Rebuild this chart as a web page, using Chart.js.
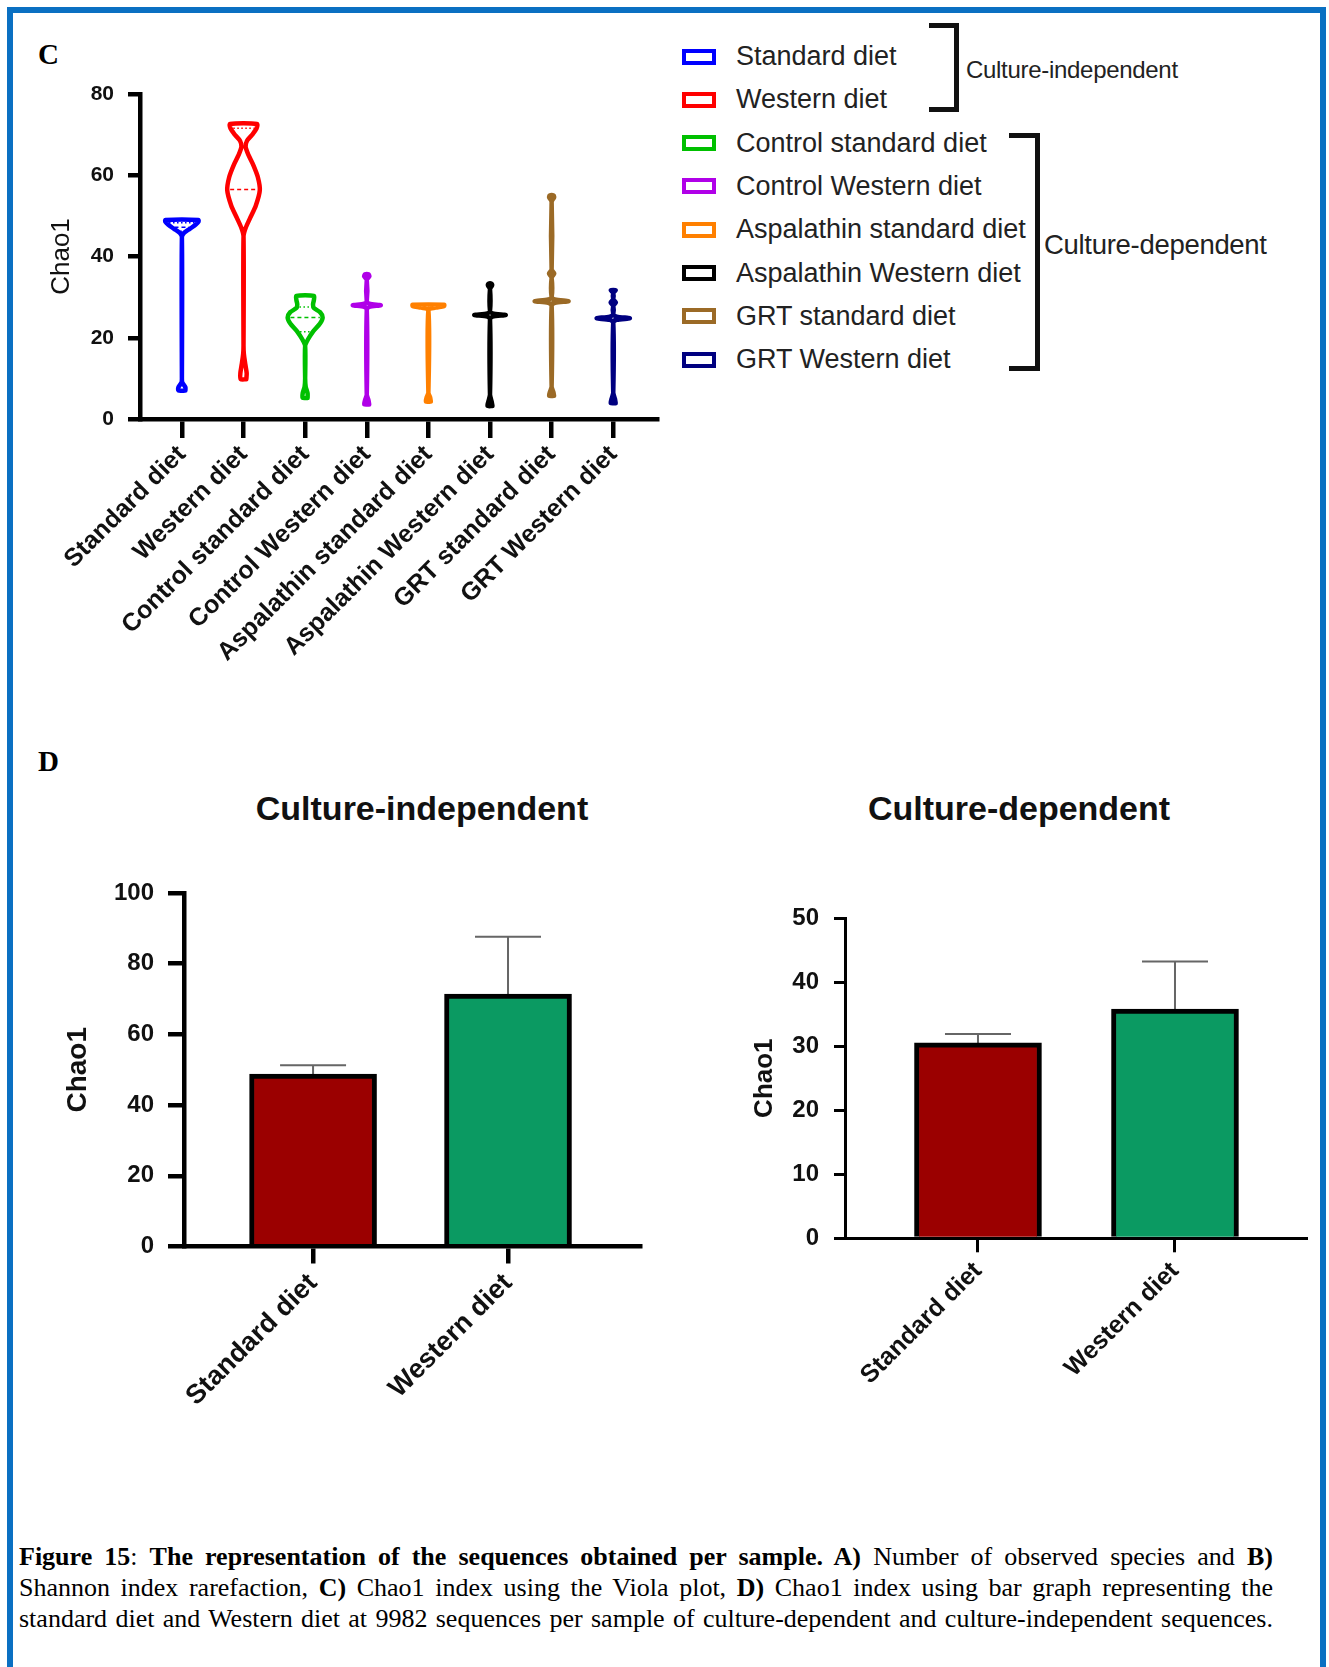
<!DOCTYPE html>
<html>
<head>
<meta charset="utf-8">
<script src="https://cdn.jsdelivr.net/npm/chart.js@4.4.1/dist/chart.umd.min.js"></script>
<style>
  html, body { margin: 0; padding: 0; background: #fff; }
  body { width: 1329px; height: 1667px; position: relative; overflow: hidden;
         font-family: "Liberation Sans", Arial, sans-serif; color: #111; }
  #frame { position: absolute; left: 7px; top: 7px; width: 1307px; height: 1700px;
           border: 6px solid #0a70c2; box-sizing: content-box; }
  canvas { position: absolute; }
  .panel { position: absolute; font-family: "Liberation Serif", "Times New Roman", serif;
           font-weight: bold; font-size: 29px; line-height: 29px; color: #000; }
  .legend-row { position: absolute; left: 682px; height: 43px; display: flex; align-items: center; }
  .legend-box { width: 26px; height: 8px; border: 4px solid; background: #fff; }
  .legend-text { position: absolute; left: 54px; white-space: nowrap; font-size: 27px; color: #222; }
  .bracket { position: absolute; border: 5px solid #111; border-left: none; box-sizing: border-box; }
  .group-label { position: absolute; color: #222; white-space: nowrap; }
  .title { position: absolute; width: 600px; text-align: center; font-weight: bold; font-size: 34px; color: #111; }
  #caption { position: absolute; left: 19px; top: 1541px; width: 1254px;
             font-family: "Liberation Serif", "Times New Roman", serif; font-size: 26px; line-height: 31px; color: #000; }
  #caption .ln { text-align: justify; text-align-last: justify; white-space: nowrap; }
</style>
</head>
<body>
<div id="frame"></div>

<div class="panel" style="left:38px; top:40px;">C</div>
<div class="panel" style="left:38px; top:747px;">D</div>

<div id="legend"></div>
<div class="bracket" style="left:929px; top:23px; width:30px; height:89px;"></div>
<div class="group-label" style="left:966px; top:56px; font-size:24px; letter-spacing:-0.3px;">Culture-independent</div>
<div class="bracket" style="left:1009px; top:133px; width:31px; height:238px;"></div>
<div class="group-label" style="left:1044px; top:229px; font-size:27.5px; letter-spacing:-0.3px;">Culture-dependent</div>

<div class="title" style="left:122px; top:789px;">Culture-independent</div>
<div class="title" style="left:719px; top:789px;">Culture-dependent</div>

<canvas id="violin" width="680" height="680" style="left:0; top:0;"></canvas>
<canvas id="barIndep" width="660" height="600" style="left:0; top:840px;"></canvas>
<canvas id="barDep" width="620" height="600" style="left:700px; top:840px;"></canvas>

<div id="caption">
  <div class="ln"><b>Figure 15</b>: <b>The representation of the sequences obtained per sample. A)</b> Number of observed species and <b>B)</b></div>
  <div class="ln">Shannon index rarefaction, <b>C)</b> Chao1 index using the Viola plot, <b>D)</b> Chao1 index using bar graph representing the</div>
  <div class="ln">standard diet and Western diet at 9982 sequences per sample of culture-dependent and culture-independent sequences.</div>
</div>

<script>
// ---------- Panel C: Chao1 violin plot ----------
const categories = [
  'Standard diet', 'Western diet', 'Control standard diet', 'Control Western diet',
  'Aspalathin standard diet', 'Aspalathin Western diet', 'GRT standard diet', 'GRT Western diet'
];
const groupColors = ['#0000ff', '#ff0000', '#00c000', '#b000e8', '#ff8000', '#000000', '#9b6a26', '#000080'];
const violinTicks = [0, 20, 40, 60, 80];

// Density profiles along Chao1: [Chao1 value, relative density]
const standardDietProfile = [[7.0, 0.2], [7.8, 0.2], [9.0, 0.02], [10, 0], [44.8, 0], [45.8, 0.12], [46.8, 0.45], [47.8, 0.78], [48.5, 0.94], [49.0, 0.94]];
const westernDietProfile = [[9.8, 0.16], [11.3, 0.18], [13.5, 0.1], [16, 0.02], [18, 0], [45, 0], [47, 0.12], [49.5, 0.38], [52.5, 0.7], [56.3, 0.93], [59.5, 0.82], [62.5, 0.56], [65, 0.28], [67, 0.12], [68.5, 0.2], [70, 0.5], [71.5, 0.74], [72.6, 0.77]];
const controlStandardProfile = [[5.2, 0.14], [6.3, 0.14], [8, 0.03], [10, 0], [18, 0], [19.5, 0.15], [21.5, 0.45], [23.5, 0.85], [25, 1.0], [26.3, 0.85], [27.3, 0.5], [28.2, 0.45], [29.3, 0.5], [30.3, 0.5]];
const controlWesternProfile = [[3.6, 0.14], [4.6, 0.1], [6, 0], [27, 0], [27.6, 0.15], [28.0, 0.8], [28.4, 0.15], [29.0, 0], [34.3, 0], [35.1, 0.15], [35.6, 0.1]];
const aspalathinStandardProfile = [[4.3, 0.14], [5.3, 0.1], [6.5, 0], [26.8, 0], [27.4, 0.4], [27.8, 0.9], [28.1, 0.9]];
const aspalathinWesternProfile = [[3.2, 0.14], [4.2, 0.1], [6, 0], [24.6, 0], [25.2, 0.15], [25.6, 0.9], [26.0, 0.15], [26.6, 0], [32, 0], [32.9, 0.12], [33.3, 0.1]];
const grtStandardProfile = [[5.7, 0.14], [6.6, 0.1], [8, 0], [28.0, 0], [28.6, 0.2], [29.0, 0.97], [29.4, 0.2], [30.0, 0], [34.8, 0], [35.8, 0.15], [36.8, 0], [53.5, 0], [54.5, 0.14], [55.0, 0.12]];
const grtWesternProfile = [[3.9, 0.14], [4.9, 0.1], [6.5, 0], [23.8, 0], [24.4, 0.2], [24.8, 0.95], [25.2, 0.2], [25.8, 0], [27.9, 0], [28.7, 0.15], [29.5, 0], [31, 0], [31.7, 0.14]];
const violinProfiles = [standardDietProfile, westernDietProfile, controlStandardProfile, controlWesternProfile,
  aspalathinStandardProfile, aspalathinWesternProfile, grtStandardProfile, grtWesternProfile];

const medians = [47.2, 56.5, 25.0, 28.0, 27.8, 25.6, 29.0, 24.8];
const upperQuartiles = [48.3, 71.6, 27.6, 28.2, 28.0, 25.8, 29.2, 25.0];
const lowerQuartiles = [46.2, 44.0, 21.5, 27.8, 27.6, 25.4, 28.8, 24.6];

// ---------- Panel D: mean Chao1 bars ----------
const barCategories = ['Standard diet', 'Western diet'];
const barColors = ['#9b0000', '#0b9a62'];
const independentMeans = [48.8, 71.4];
const independentSD = [2.5, 16.2];
const independentTicks = [0, 20, 40, 60, 80, 100];
const dependentMeans = [30.5, 35.8];
const dependentSD = [1.4, 7.4];
const dependentTicks = [0, 10, 20, 30, 40, 50];

// ---------- shared styling ----------
const SANS = '"Liberation Sans", Arial, sans-serif';
const VIOLIN_HALF = 0.284;   // x-units for a density of 1

Chart.defaults.font.family = SANS;
Chart.defaults.color = '#111';

// legend for panel C
(function buildLegend() {
  const host = document.getElementById('legend');
  categories.forEach((name, i) => {
    const row = document.createElement('div');
    row.className = 'legend-row';
    row.style.top = (35 + i * 43.3) + 'px';
    const box = document.createElement('div');
    box.className = 'legend-box';
    box.style.borderColor = groupColors[i];
    const txt = document.createElement('div');
    txt.className = 'legend-text';
    txt.textContent = name;
    row.appendChild(box);
    row.appendChild(txt);
    host.appendChild(row);
  });
})();

function densityAt(profile, v) {
  for (let k = 1; k < profile.length; k++) {
    const [v0, d0] = profile[k - 1], [v1, d1] = profile[k];
    if (v >= v0 && v <= v1) return v1 === v0 ? d1 : d0 + (d1 - d0) * (v - v0) / (v1 - v0);
  }
  return 0;
}

function violinOutline(i) {
  const c = i + 1, prof = violinProfiles[i];
  const right = prof.map(([v, d]) => ({ x: c + d * VIOLIN_HALF, y: v }));
  const left = prof.slice().reverse().map(([v, d]) => ({ x: c - d * VIOLIN_HALF, y: v }));
  return right.concat(left, [right[0]]);
}

function crossLine(i, v) {
  const w = Math.max(densityAt(violinProfiles[i], v) * VIOLIN_HALF - 0.045, 0);
  return [{ x: i + 1 - w, y: v }, { x: i + 1 + w, y: v }];
}

const violinDatasets = [];
categories.forEach((name, i) => {
  violinDatasets.push({
    label: name, data: violinOutline(i), showLine: true, fill: false,
    borderColor: groupColors[i], borderWidth: 4.5, tension: 0.25,
    pointRadius: 0, borderCapStyle: 'round', borderJoinStyle: 'round'
  });
  violinDatasets.push({
    label: name + ' median', data: crossLine(i, medians[i]), showLine: true,
    borderColor: groupColors[i], borderWidth: 1.5, borderDash: [4, 3], pointRadius: 0, tension: 0
  });
  [upperQuartiles[i], lowerQuartiles[i]].forEach(q => violinDatasets.push({
    label: name + ' quartile', data: crossLine(i, q), showLine: true,
    borderColor: groupColors[i], borderWidth: 1.5, borderDash: [1.5, 2.5], pointRadius: 0, tension: 0
  }));
});

new Chart(document.getElementById('violin'), {
  type: 'scatter',
  data: { datasets: violinDatasets },
  options: {
    responsive: false, animation: false, events: [],
    layout: { padding: { top: 94, right: 23, bottom: 0, left: 0 } },
    plugins: { legend: { display: false }, tooltip: { enabled: false } },
    scales: {
      x: {
        type: 'linear', min: 0.32, max: 8.71, offset: false,
        afterBuildTicks: s => { s.ticks = categories.map((_, i) => ({ value: i + 1 })); },
        afterFit: s => { s.height = 261; },
        grid: { drawOnChartArea: false, drawTicks: true, tickLength: 19, lineWidth: 4.5, color: '#000', offset: false },
        border: { display: true, width: 4.5, color: '#000' },
        ticks: { autoSkip: false, minRotation: 45, maxRotation: 45, padding: 2, color: '#111',
                 font: { family: SANS, size: 25, weight: 'bold' }, callback: (v, i) => categories[i] }
      },
      y: {
        type: 'linear', min: 0, max: 80,
        afterBuildTicks: s => { s.ticks = violinTicks.map(v => ({ value: v })); },
        afterFit: s => { s.width = 140; },
        grid: { drawOnChartArea: false, drawTicks: true, tickLength: 12, lineWidth: 4.5, color: '#000' },
        border: { display: true, width: 4.5, color: '#000' },
        ticks: { padding: 14, color: '#111', font: { family: SANS, size: 21, weight: 'bold' } },
        title: { display: true, text: 'Chao1', color: '#111', padding: { top: 46, bottom: 0 },
                 font: { family: SANS, size: 26, weight: 'normal' } }
      }
    }
  }
});

// upper error bars for the mean bars
const errorBars = {
  id: 'errorBars',
  beforeDatasetsDraw(chart, args, opts) {
    const { ctx } = chart;
    const meta = chart.getDatasetMeta(0);
    const yScale = chart.scales.y;
    const values = chart.data.datasets[0].data;
    ctx.save();
    ctx.strokeStyle = opts.color;
    ctx.lineWidth = opts.width;
    meta.data.forEach((bar, i) => {
      const top = yScale.getPixelForValue(values[i].y + opts.sd[i]);
      ctx.beginPath();
      ctx.moveTo(bar.x, bar.y);
      ctx.lineTo(bar.x, top);
      ctx.moveTo(bar.x - opts.cap / 2, top);
      ctx.lineTo(bar.x + opts.cap / 2, top);
      ctx.stroke();
    });
    ctx.restore();
  }
};

function barChart(canvasId, means, sds, ticks, cfg) {
  new Chart(document.getElementById(canvasId), {
    type: 'bar',
    data: {
      datasets: [{
        data: means.map((m, i) => ({ x: i + 1, y: m })),
        backgroundColor: barColors, borderColor: '#000', borderWidth: 5,
        borderSkipped: 'start', barThickness: 127
      }]
    },
    plugins: [errorBars],
    options: {
      responsive: false, animation: false, events: [],
      layout: { padding: { top: cfg.top, right: cfg.right, bottom: 0, left: 0 } },
      plugins: {
        legend: { display: false }, tooltip: { enabled: false },
        errorBars: { sd: sds, color: '#666', width: 2, cap: 66 }
      },
      scales: {
        x: {
          type: 'linear', min: cfg.xMin, max: cfg.xMax, offset: false,
          afterBuildTicks: s => { s.ticks = barCategories.map((_, i) => ({ value: i + 1 })); },
          afterFit: s => { s.height = cfg.xHeight; },
          grid: { drawOnChartArea: false, drawTicks: true, tickLength: cfg.xTick, lineWidth: cfg.axisWidth, color: '#000', offset: false },
          border: { display: true, width: cfg.axisWidth, color: '#000', z: 1 },
          ticks: { autoSkip: false, minRotation: 45, maxRotation: 45, padding: 4, color: '#111',
                   font: { family: SANS, size: cfg.labelSize, weight: 'bold' }, callback: (v, i) => barCategories[i] }
        },
        y: {
          type: 'linear', min: 0, max: ticks[ticks.length - 1],
          afterBuildTicks: s => { s.ticks = ticks.map(v => ({ value: v })); },
          afterFit: s => { s.width = cfg.yWidth; },
          grid: { drawOnChartArea: false, drawTicks: true, tickLength: cfg.yTick, lineWidth: cfg.axisWidth, color: '#000' },
          border: { display: true, width: cfg.axisWidth, color: '#000' },
          ticks: { padding: cfg.tickPad, color: '#111', font: { family: SANS, size: 24, weight: 'bold' } },
          title: { display: true, text: 'Chao1', color: '#111', padding: { top: cfg.titlePad, bottom: 0 },
                   font: { family: SANS, size: cfg.titleSize, weight: 'bold' } }
        }
      }
    }
  });
}

barChart('barIndep', independentMeans, independentSD, independentTicks, {
  top: 53, right: 20, xMin: 0.338, xMax: 2.677, xHeight: 193.5, yWidth: 184,
  axisWidth: 4.5, xTick: 17, yTick: 16, tickPad: 14, labelSize: 27, titlePad: 61, titleSize: 28
});
barChart('barDep', dependentMeans, dependentSD, dependentTicks, {
  top: 78, right: 14, xMin: 0.325, xMax: 2.665, xHeight: 201.7, yWidth: 145,
  axisWidth: 3, xTick: 14, yTick: 11, tickPad: 15, labelSize: 25, titlePad: 49, titleSize: 26
});
</script>
</body>
</html>
